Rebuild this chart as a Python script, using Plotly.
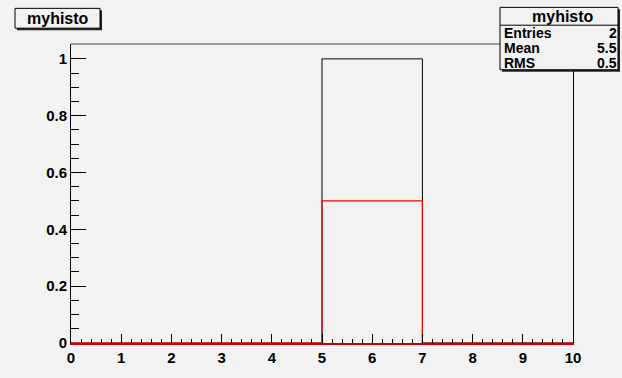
import plotly.graph_objects as go

# ---- data ----
bin_edges = [0, 1, 2, 3, 4, 5, 6, 7, 8, 9, 10]
black_counts = [0, 0, 0, 0, 0, 1, 1, 0, 0, 0]
red_counts = [0, 0, 0, 0, 0, 0.5, 0.5, 0, 0, 0]
hist_name = "myhisto"
stats_labels = ["Entries", "Mean", "RMS"]
stats_values = ["2", "5.5", "0.5"]

W, H = 622, 378
L, R, T, B = 71, 573, 44, 346
BG = "#f2f2f2"
FONT = "Liberation Sans, Arial, sans-serif"


def px(x):
    return (x - L) / (R - L)


def py(y):
    return (B - y) / (B - T)


fig = go.Figure()
fig.add_trace(go.Scatter(x=bin_edges, y=black_counts + [black_counts[-1]],
                         mode="lines", line=dict(shape="hv", color="black", width=1),
                         hoverinfo="skip", showlegend=False))
fig.add_trace(go.Scatter(x=bin_edges, y=red_counts + [red_counts[-1]],
                         mode="lines", line=dict(shape="hv", color="#ff0000", width=1.2),
                         hoverinfo="skip", showlegend=False))

shapes = []
annotations = []

# top frame line
shapes.append(dict(type="line", xref="paper", yref="paper", layer="below",
                   x0=0, x1=1, y0=1, y1=1, line=dict(color="#444444", width=1)))


def box(x0, y0, x1, y1, shadow=2):
    shapes.append(dict(type="rect", xref="paper", yref="paper", layer="above",
                       x0=px(x0 + shadow), x1=px(x1 + shadow), y0=py(y0 + shadow), y1=py(y1 + shadow),
                       fillcolor="#222222", line=dict(width=0)))
    shapes.append(dict(type="rect", xref="paper", yref="paper", layer="above",
                       x0=px(x0), x1=px(x1), y0=py(y0), y1=py(y1),
                       fillcolor=BG, line=dict(color="black", width=1)))


# title box
box(15, 8, 100, 28)
annotations.append(dict(xref="paper", yref="paper", x=px(57.5), y=py(18), text="<b>%s</b>" % hist_name,
                        showarrow=False, xanchor="center", yanchor="middle",
                        font=dict(family=FONT, size=16, color="black")))

# stats box
box(500, 7, 618, 70)
shapes.append(dict(type="line", xref="paper", yref="paper", layer="above",
                   x0=px(500), x1=px(618), y0=py(25), y1=py(25), line=dict(color="black", width=1)))
annotations.append(dict(xref="paper", yref="paper", x=px(563), y=py(16), text="<b>%s</b>" % hist_name,
                        showarrow=False, xanchor="center", yanchor="middle",
                        font=dict(family=FONT, size=16, color="black")))
rows_y = [33, 48, 63]
for lab, val, yy in zip(stats_labels, stats_values, rows_y):
    annotations.append(dict(xref="paper", yref="paper", x=px(502), y=py(yy), text="<b>%s</b>" % lab,
                            showarrow=False, xanchor="left", yanchor="middle",
                            font=dict(family=FONT, size=14, color="black")))
    annotations.append(dict(xref="paper", yref="paper", x=px(619), y=py(yy), text="<b>%s</b>" % val,
                            showarrow=False, xanchor="right", yanchor="middle",
                            font=dict(family=FONT, size=14, color="black")))

fig.update_layout(
    width=W, height=H,
    margin=dict(l=L, r=W - R, t=T, b=H - B),
    paper_bgcolor=BG, plot_bgcolor=BG,
    font=dict(family=FONT, size=15, color="black"),
    shapes=shapes, annotations=annotations,
    xaxis=dict(range=[0, 10], dtick=1, tick0=0, ticks="inside", ticklen=9, tickwidth=1,
               tickcolor="black", showgrid=False, zeroline=False,
               showline=True, linecolor="#cc0000", linewidth=2, mirror=False,
               tickfont=dict(family=FONT, size=15, color="black", weight="bold"),
               minor=dict(dtick=0.2, tick0=0, ticks="inside", ticklen=4.5, tickcolor="black", showgrid=False)),
    yaxis=dict(range=[0, 1.0523], dtick=0.2, tick0=0, ticks="inside", ticklen=15, tickwidth=1,
               tickcolor="black", showgrid=False, zeroline=False,
               showline=True, linecolor="black", linewidth=1, mirror=True,
               tickfont=dict(family=FONT, size=15, color="black", weight="bold"),
               minor=dict(dtick=0.05, tick0=0, ticks="inside", ticklen=7.5, tickcolor="black", showgrid=False)),
)

fig.write_html("out.html", config={"displayModeBar": False},
               post_script="document.body.style.margin='0';")
